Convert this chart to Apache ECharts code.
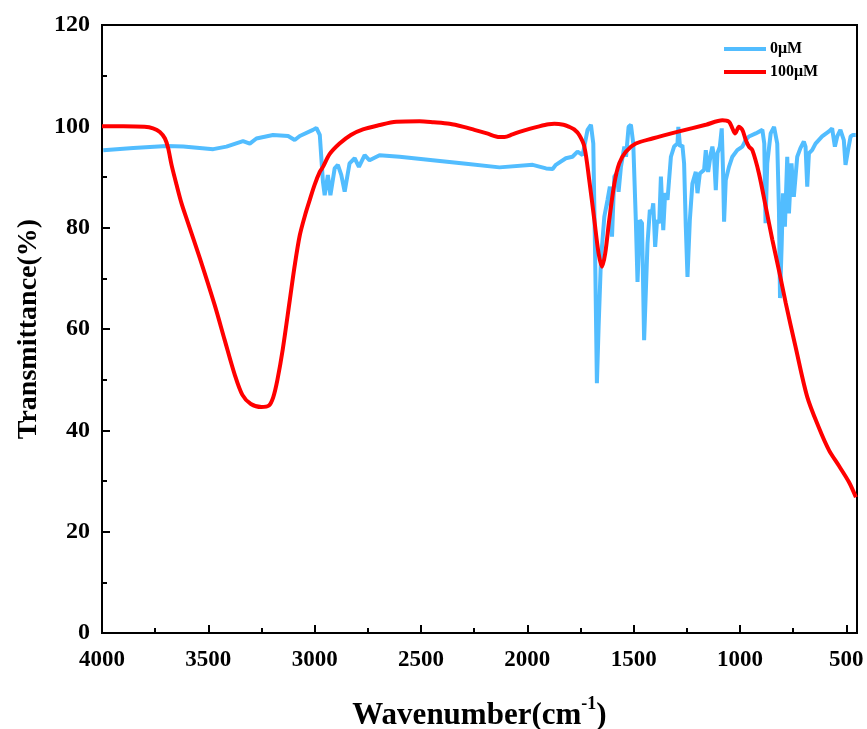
<!DOCTYPE html>
<html>
<head>
<meta charset="utf-8">
<script src="https://cdn.jsdelivr.net/npm/echarts@6/dist/echarts.min.js"></script>
<style>html,body{margin:0;padding:0;background:#fff;}#c{width:867px;height:729px;}</style>
</head>
<body>
<div id="c"></div>
<script>
// Tick labels
const xMajorTicks = [4000, 3500, 3000, 2500, 2000, 1500, 1000, 500];
const xMinorTicks = [3750, 3250, 2750, 2250, 1750, 1250, 750];
const seriesNames = ['0\u03bcM', '100\u03bcM'];

// 0 uM spectrum
const wn0 = [3994,3853,3696,3618,3477,3415,3337,3305,3274,3196,3125,3094,3070,3008,2992,2976,2961,2953,2938,2926,2906,2891,2875,2859,2836,2812,2792,2765,2742,2695,2601,2445,2288,2131,1975,1912,1881,1866,1819,1788,1764,1740,1717,1701,1690,1681,1673,1665,1654,1638,1623,1612,1602,1591,1580,1571,1560,1544,1536,1524,1513,1502,1490,1482,1471,1461,1451,1435,1424,1415,1408,1399,1390,1380,1372,1361,1352,1341,1325,1310,1294,1290,1282,1271,1263,1255,1247,1236,1224,1208,1200,1189,1169,1161,1150,1137,1130,1122,1114,1106,1095,1086,1080,1075,1067,1052,1036,1013,989,973,958,926,895,886,880,872,856,840,825,817,812,804,798,789,778,770,758,747,731,716,700,692,684,676,661,645,614,582,567,554,543,528,512,504,492,480,469,456];
const t0 = [95.3,95.7,96.1,96,95.5,96,97.1,96.6,97.6,98.3,98.1,97.3,98.1,99.3,99.7,98.3,89,86.4,90.4,86.4,91.7,92.4,90.4,87.1,92.7,93.7,92,94.3,93.3,94.3,94,93.3,92.6,91.9,92.4,91.7,91.6,92.4,93.7,94,95,94.3,99.3,100.3,96.6,73.6,49.3,60.4,73.6,82.2,85.5,88.1,78.2,90.1,90.7,87.1,92,96,94,99.9,100.3,96.6,81.5,69.3,81.5,80.9,57.8,76.9,83.5,82.8,84.8,76.2,81.5,80.9,90.1,79.5,86.8,85.5,94,96,96.6,99.9,96,96.3,92.7,80.2,70.3,81.5,88.7,91,86.8,90.7,91.4,95.3,91,94.7,96,94,87.4,94.7,96,99.6,91.4,81.2,89.4,92,94,95.3,96,97.3,98,98.6,99.3,96.6,80.9,92.7,98.6,99.9,96.6,83.5,66.1,76.9,86.8,80.2,94,82.8,92.7,86.1,94,95.7,97,96,88.1,94.7,95.3,96.6,98,99,99.6,96,98,99.3,97.3,92.4,95.3,98,98.3,98.3];

// 100 uM spectrum
const wn100 = [4000,3900,3800,3760,3728,3704,3689,3673,3649,3626,3600,3540,3470,3423,3376,3340,3300,3250,3215,3195,3175,3150,3117,3094,3070,3045,3023,3000,2976,2961,2930,2883,2830,2773,2700,2616,2507,2440,2366,2300,2249,2190,2131,2108,2070,2037,1990,1944,1900,1873,1830,1803,1780,1756,1732,1709,1685,1665,1649,1634,1615,1591,1568,1537,1490,1412,1286,1161,1083,1052,1036,1023,1005,989,973,958,942,911,879,848,817,785,739,684,629,582,535,488,455];
const t100 = [100,100,99.9,99.6,98.9,97.6,95.7,92.4,88.4,84.8,81.5,74,64.7,57.8,51,47,45.2,44.6,44.9,46.5,50,56,65.7,72.5,78.5,82.5,85.5,88.5,91,92,94.5,96.6,98.3,99.4,100.2,100.9,101,100.8,100.5,99.9,99.3,98.6,97.9,97.9,98.4,98.9,99.5,100,100.4,100.5,100.3,99.9,99.4,98.3,96,89.4,81.5,74.9,72.3,74.9,81.5,88.7,92.7,95,96.6,97.6,99,100.3,101.2,100.9,99.6,98.6,99.9,99.3,97.3,96,95.3,90.7,84.1,77.6,71.6,65.1,56.5,46.6,40.5,36.1,33,29.8,26.8];

const FONT = '"Times New Roman","Liberation Serif",serif';
const chart = echarts.init(document.getElementById('c'), null, {renderer: 'canvas'});

const pairs = (xs, ys) => xs.map((x, i) => [x, ys[i]]);

chart.setOption({
  animation: false,
  backgroundColor: '#fff',
  grid: {left: 102, right: 10, top: 25, bottom: 96, outerBoundsMode: 'none', containLabel: false, show: true, borderColor: '#000', borderWidth: 2, backgroundColor: 'transparent'},
  legend: {
    orient: 'vertical', left: 719, top: 35, itemWidth: 42, itemHeight: 4, itemGap: 5, icon: 'rect',
    textStyle: {fontFamily: FONT, fontWeight: 'bold', fontSize: 16, color: '#000', lineHeight: 18, padding: [0, 0, 0, -1]},
    data: seriesNames
  },
  xAxis: [{
    type: 'value', inverse: true, min: 450, max: 4000,
    name: '{a|Wavenumber(cm}{s|-1}{a|)}', nameLocation: 'middle', nameGap: 62,
    nameTextStyle: {rich: {
      a: {fontFamily: FONT, fontWeight: 'bold', fontSize: 31, color: '#000', lineHeight: 36, verticalAlign: 'bottom'},
      s: {fontFamily: FONT, fontWeight: 'bold', fontSize: 18, color: '#000', lineHeight: 36, verticalAlign: 'top'}
    }},
    axisLine: {show: true, lineStyle: {color: '#000', width: 2}},
    axisTick: {show: true, inside: true, length: 8, lineStyle: {color: '#000', width: 2}, customValues: xMajorTicks},
    axisLabel: {customValues: xMajorTicks, formatter: v => String(v), fontFamily: FONT, fontWeight: 'bold', fontSize: 23, color: '#000', margin: 16},
    splitLine: {show: false}
  }, {
    type: 'value', inverse: true, min: 450, max: 4000, position: 'bottom',
    axisLine: {show: false},
    axisTick: {show: true, inside: true, length: 5, lineStyle: {color: '#000', width: 2}, customValues: xMinorTicks},
    axisLabel: {show: false},
    splitLine: {show: false}
  }],
  yAxis: {
    type: 'value', min: 0, max: 120, interval: 20,
    name: 'Transmittance(%)', nameLocation: 'middle', nameGap: 53,
    nameTextStyle: {fontFamily: FONT, fontWeight: 'bold', fontSize: 28, color: '#000'},
    axisLine: {show: true, lineStyle: {color: '#000', width: 2}},
    axisTick: {show: true, inside: true, length: 8, lineStyle: {color: '#000', width: 2}},
    minorTick: {show: true, splitNumber: 2, length: 5, lineStyle: {color: '#000', width: 2}},
    axisLabel: {fontFamily: FONT, fontWeight: 'bold', fontSize: 24, color: '#000', margin: 12},
    splitLine: {show: false}
  },
  series: [{
    name: seriesNames[0], type: 'line', xAxisIndex: 0, data: pairs(wn0, t0),
    symbol: 'none', showSymbol: false, smooth: false,
    lineStyle: {color: '#52BDFF', width: 4}, itemStyle: {color: '#52BDFF'}
  }, {
    name: seriesNames[1], type: 'line', xAxisIndex: 0, data: pairs(wn100, t100),
    symbol: 'none', showSymbol: false, smooth: 0.3,
    lineStyle: {color: '#FF0000', width: 4}, itemStyle: {color: '#FF0000'}
  }]
});
</script>
</body>
</html>
